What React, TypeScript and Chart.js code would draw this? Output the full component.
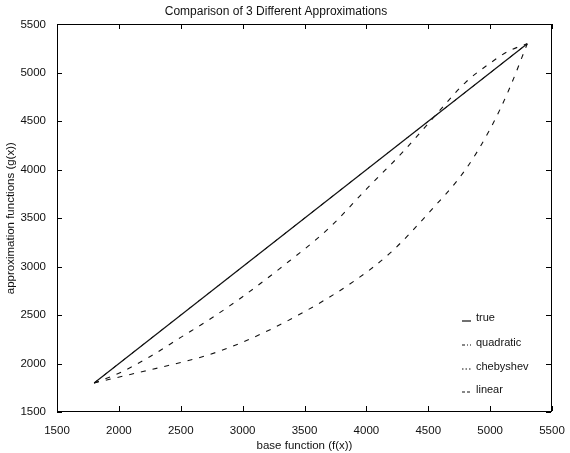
import React, { useEffect, useRef } from "react";
import { Chart, registerables } from "chart.js";

Chart.register(...registerables);

const TITLE = "Comparison of 3 Different Approximations";
const X_TITLE = "base function (f(x))";
const Y_TITLE = "approximation functions (g(x))";

const xTicks = [1500, 2000, 2500, 3000, 3500, 4000, 4500, 5000, 5500];
const yTicks = [1500, 2000, 2500, 3000, 3500, 4000, 4500, 5000, 5500];

const trueX = [1800, 5300];
const trueY = [1800, 5300];

const quadX = [1800, 2100, 2400, 2700, 3000, 3450, 3900, 4200, 4500, 4800, 5000, 5150, 5300];
const quadY = [1800, 1890, 1980, 2080, 2220, 2500, 2850, 3150, 3550, 4000, 4420, 4820, 5300];

const chebX = [1800, 2000, 2250, 2500, 2750, 3000, 3300, 3700, 4000, 4300, 4550, 4800, 5000, 5150, 5300];
const chebY = [1800, 1900, 2070, 2270, 2470, 2690, 2980, 3400, 3800, 4190, 4550, 4900, 5100, 5225, 5300];

const linX = [1800, 5300];
const linY = [1800, 5300];

const seriesLabels = ["true", "quadratic", "chebyshev", "linear"];
const legendDash = [[], [3, 2, 1, 2], [1.5, 2], [3, 2]];

const FONT = "'Liberation Sans', Arial, Helvetica, sans-serif";
const INK = "#111";

const pts = (xs: number[], ys: number[]) => xs.map((x, i) => ({ x, y: ys[i] }));

const frameAndLegend = {
  id: "frameAndLegend",
  afterDraw(chart: any) {
    const { ctx, chartArea: a, scales } = chart;
    ctx.save();
    ctx.setLineDash([]);
    ctx.globalAlpha = 1;
    ctx.fillStyle = "#000";
    const L = Math.round(a.left);
    const R = Math.round(a.right) - 1;
    const T = Math.round(a.top);
    const B = Math.round(a.bottom) - 1;
    ctx.fillRect(L, T, R - L + 1, 1);
    ctx.fillRect(R, T, 1, B - T + 1);
    ctx.fillRect(L, T, 1, B - T + 1);
    ctx.fillRect(L, B, R - L + 1, 1);
    const tl = 5;
    xTicks.forEach((v) => {
      const px = Math.round(scales.x.getPixelForValue(v));
      ctx.fillRect(px, B - tl, 1, tl);
      ctx.fillRect(px, T, 1, tl);
    });
    yTicks.forEach((v) => {
      const py = Math.round(scales.y.getPixelForValue(v));
      ctx.fillRect(L, py, tl, 1);
      ctx.fillRect(R - tl, py, tl, 1);
    });

    const rows = [318, 343, 367, 390];
    ctx.font = `11px ${FONT}`;
    ctx.textBaseline = "middle";
    ctx.textAlign = "left";
    ctx.strokeStyle = INK;
    ctx.fillStyle = INK;
    chart.data.datasets.forEach((ds: any, i: number) => {
      const y = rows[i];
      ctx.beginPath();
      ctx.setLineDash(legendDash[i]);
      ctx.lineWidth = 1.2;
      ctx.moveTo(462, y + (i === 0 ? 3 : 2));
      ctx.lineTo(471, y + (i === 0 ? 3 : 2));
      ctx.stroke();
      ctx.setLineDash([]);
      ctx.fillText(ds.label, 476, y);
    });
    ctx.restore();
  },
};

export default function App() {
  const ref = useRef<HTMLCanvasElement | null>(null);
  useEffect(() => {
    document.body.style.margin = "0";
    const canvas = ref.current!;
    const chart = new Chart(canvas, {
      type: "line",
      data: {
        datasets: [
          { label: seriesLabels[0], data: pts(trueX, trueY), borderColor: INK, borderWidth: 1.2, pointRadius: 0 },
          { label: seriesLabels[1], data: pts(quadX, quadY), borderColor: INK, borderWidth: 1.1, borderDash: [5, 7], pointRadius: 0, cubicInterpolationMode: "monotone" },
          { label: seriesLabels[2], data: pts(chebX, chebY), borderColor: INK, borderWidth: 1.1, borderDash: [5, 7], pointRadius: 0, cubicInterpolationMode: "monotone" },
          { label: seriesLabels[3], data: pts(linX, linY), borderColor: INK, borderWidth: 1, borderDash: [4, 8], pointRadius: 0 },
        ],
      },
      options: {
        responsive: false,
        animation: false,
        layout: { padding: { left: 0, right: 18, top: 0, bottom: 0 } },
        plugins: {
          legend: { display: false },
          tooltip: { enabled: false },
          title: {
            display: true,
            text: TITLE,
            color: INK,
            font: { family: FONT, size: 12, weight: "normal" },
            padding: { top: 4, bottom: 6 },
          },
        },
        scales: {
          x: {
            type: "linear",
            min: 1500,
            max: 5500,
            afterBuildTicks: (s: any) => {
              s.ticks = xTicks.map((v) => ({ value: v }));
            },
            afterFit: (s: any) => {
              s.height = 41;
            },
            grid: { display: false },
            border: { display: false },
            ticks: { color: INK, font: { family: FONT, size: 11.5 }, padding: 4, maxRotation: 0, autoSkip: false, callback: (v: any) => String(v) },
            title: { display: true, text: X_TITLE, color: INK, font: { family: FONT, size: 11.5 }, padding: { top: 0, bottom: 0 } },
          },
          y: {
            type: "linear",
            min: 1500,
            max: 5500,
            afterBuildTicks: (s: any) => {
              s.ticks = yTicks.map((v) => ({ value: v }));
            },
            afterFit: (s: any) => {
              s.width = 57;
            },
            grid: { display: false },
            border: { display: false },
            ticks: { color: INK, font: { family: FONT, size: 11.5 }, padding: 3, autoSkip: false, callback: (v: any) => String(v) },
            title: { display: true, text: Y_TITLE, color: INK, font: { family: FONT, size: 11.5 }, padding: { top: 4, bottom: 0 } },
          },
        },
      },
      plugins: [frameAndLegend],
    } as any);
    return () => chart.destroy();
  }, []);
  return <canvas ref={ref} width={570} height={453} style={{ display: "block" }} />;
}
